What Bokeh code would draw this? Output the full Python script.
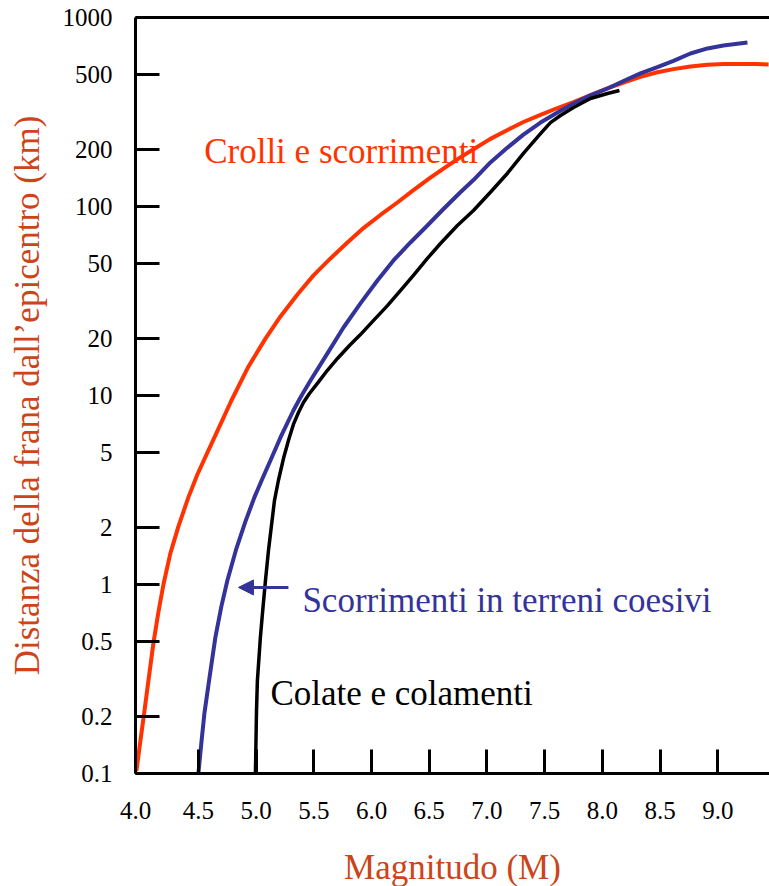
from bokeh.plotting import figure
from bokeh.models import (Range1d, FixedTicker, CustomJSTickFormatter, PrintfTickFormatter,
                          LinearAxis, Label, Arrow, NormalHead)
from bokeh.embed import file_html
from bokeh.resources import INLINE

# Crolli e scorrimenti (red)
mag_crolli = [3.963, 3.997, 4.032, 4.067, 4.110, 4.153, 4.197, 4.257, 4.327, 4.413, 4.491,
              4.587, 4.691, 4.786, 4.933, 5.081, 5.211, 5.358, 5.497, 5.644, 5.791, 5.930,
              6.077, 6.224, 6.363, 6.510, 6.658, 6.770, 6.883, 7.030, 7.178, 7.316, 7.464,
              7.611, 7.750, 7.897, 8.044, 8.183, 8.330, 8.477, 8.616, 8.763, 8.911, 9.049,
              9.197, 9.327, 9.440]
dist_crolli = [0.103, 0.148, 0.213, 0.310, 0.488, 0.711, 1.00, 1.46, 2.03, 2.89, 3.82,
               5.12, 7.03, 9.41, 14.2, 20.0, 26.2, 34.2, 43.2, 53.1, 64.5, 76.9,
               90.2, 105, 122, 142, 164, 182, 201, 228, 254, 280, 305,
               332, 357, 388, 422, 453, 485, 513, 533, 551, 562, 567,
               567, 567, 564]

# Scorrimenti in terreni coesivi (blue)
mag_coesivi = [4.500, 4.526, 4.552, 4.595, 4.647, 4.699, 4.751, 4.829, 4.907, 4.985, 5.055,
               5.124, 5.211, 5.323, 5.384, 5.471, 5.618, 5.757, 5.904, 6.051, 6.190, 6.337,
               6.484, 6.623, 6.770, 6.883, 7.030, 7.178, 7.316, 7.464, 7.611, 7.750, 7.897,
               8.044, 8.183, 8.330, 8.477, 8.616, 8.763, 8.911, 9.049, 9.257]
dist_coesivi = [0.100, 0.146, 0.208, 0.318, 0.525, 0.766, 1.05, 1.55, 2.15, 2.89, 3.64,
                4.53, 6.00, 8.33, 9.76, 12.0, 16.7, 22.9, 30.7, 40.6, 51.8, 64.5,
                79.3, 97.0, 119, 138, 171, 205, 240, 278, 314, 351, 387,
                421, 461, 506, 547, 589, 645, 686, 711, 738]

# Colate e colamenti (black)
mag_colate = [4.994, 5.003, 5.011, 5.037, 5.055, 5.081, 5.107, 5.133, 5.159, 5.193, 5.237,
              5.280, 5.323, 5.367, 5.410, 5.462, 5.531, 5.618, 5.705, 5.809, 5.904, 6.016,
              6.138, 6.250, 6.363, 6.484, 6.597, 6.744, 6.883, 7.030, 7.178, 7.316, 7.464,
              7.550, 7.637, 7.750, 7.897, 8.044, 8.148]
dist_colate = [0.100, 0.210, 0.310, 0.525, 0.703, 1.05, 1.51, 2.05, 2.78, 3.55, 4.64,
               5.78, 7.03, 8.13, 9.18, 10.25, 11.6, 13.6, 15.7, 18.4, 21.0, 24.9,
               29.9, 35.9, 43.2, 53.1, 63.7, 79.3, 95.3, 119, 150, 191, 243,
               278, 303, 334, 373, 396, 411]

x_ticks = [3.955, 4.5, 5.0, 5.5, 6.0, 6.5, 7.0, 7.5, 8.0, 8.5, 9.0]
y_ticks = [0.1, 0.2, 0.5, 1, 2, 5, 10, 20, 50, 100, 200, 500, 1000]

FONT = "Liberation Serif"
RED = "#ff3300"
TITLE = "#cc4418"
BLUE = "#333399"

p = figure(frame_width=634, frame_height=756,
           x_range=Range1d(3.955, 9.448), y_range=Range1d(0.1, 1000),
           y_axis_type="log", output_backend="svg", toolbar_location=None,
           min_border_left=135, min_border_right=0, min_border_top=17, min_border_bottom=113,
           background_fill_color="white", border_fill_color="white", outline_line_color=None)
p.grid.visible = False

xa = p.xaxis[0]
ya = p.yaxis[0]
xa.ticker = FixedTicker(ticks=x_ticks)
xa.formatter = PrintfTickFormatter(format="%.1f")
ya.ticker = FixedTicker(ticks=y_ticks)
ya.formatter = CustomJSTickFormatter(code="return tick.toString();")
xa.axis_label = "Magnitudo (M)"
ya.axis_label = "Distanza della frana dall\u2019epicentro (km)"
for ax in (xa, ya):
    ax.axis_line_width = 3
    ax.axis_line_color = "black"
    ax.major_tick_line_width = 3
    ax.major_tick_line_color = "black"
    ax.major_tick_in = 24
    ax.major_tick_out = 0
    ax.minor_tick_in = 0
    ax.minor_tick_out = 0
    ax.minor_tick_line_color = None
    ax.major_label_text_font = FONT
    ax.major_label_text_font_size = "25px"
    ax.major_label_text_color = "black"
    ax.axis_label_text_font = FONT
    ax.axis_label_text_font_size = "35px"
    ax.axis_label_text_font_style = "normal"
    ax.axis_label_text_color = TITLE
xa.major_label_standoff = 28
xa.axis_label_standoff = 26
ya.major_label_standoff = 23
ya.axis_label_standoff = 13

top = LinearAxis(ticker=FixedTicker(ticks=[]), axis_line_width=3, axis_line_color="black",
                 major_tick_in=0, major_tick_out=0, minor_tick_in=0, minor_tick_out=0,
                 major_label_text_font_size="0px")
p.add_layout(top, "above")

p.line(mag_crolli, dist_crolli, line_color=RED, line_width=4, line_join="round")
p.line(mag_coesivi, dist_coesivi, line_color=BLUE, line_width=4, line_join="round")
p.line(mag_colate, dist_colate, line_color="black", line_width=3.5, line_join="round")

p.add_layout(Label(x=4.55, y=196, text="Crolli e scorrimenti", text_font=FONT,
                   text_font_size="35px", text_color=RED, text_baseline="alphabetic"))
p.add_layout(Label(x=5.401, y=0.82, text="Scorrimenti in terreni coesivi", text_font=FONT,
                   text_font_size="35px", text_color=BLUE, text_baseline="alphabetic"))
p.add_layout(Label(x=5.124, y=0.265, text="Colate e colamenti", text_font=FONT,
                   text_font_size="35px", text_color="black", text_baseline="alphabetic"))
p.add_layout(Arrow(end=NormalHead(size=15, fill_color=BLUE, line_color=BLUE),
                   x_start=5.28, y_start=0.965, x_end=4.847, y_end=0.965,
                   line_color=BLUE, line_width=3))

open("out.html", "w").write(file_html(p, INLINE))
